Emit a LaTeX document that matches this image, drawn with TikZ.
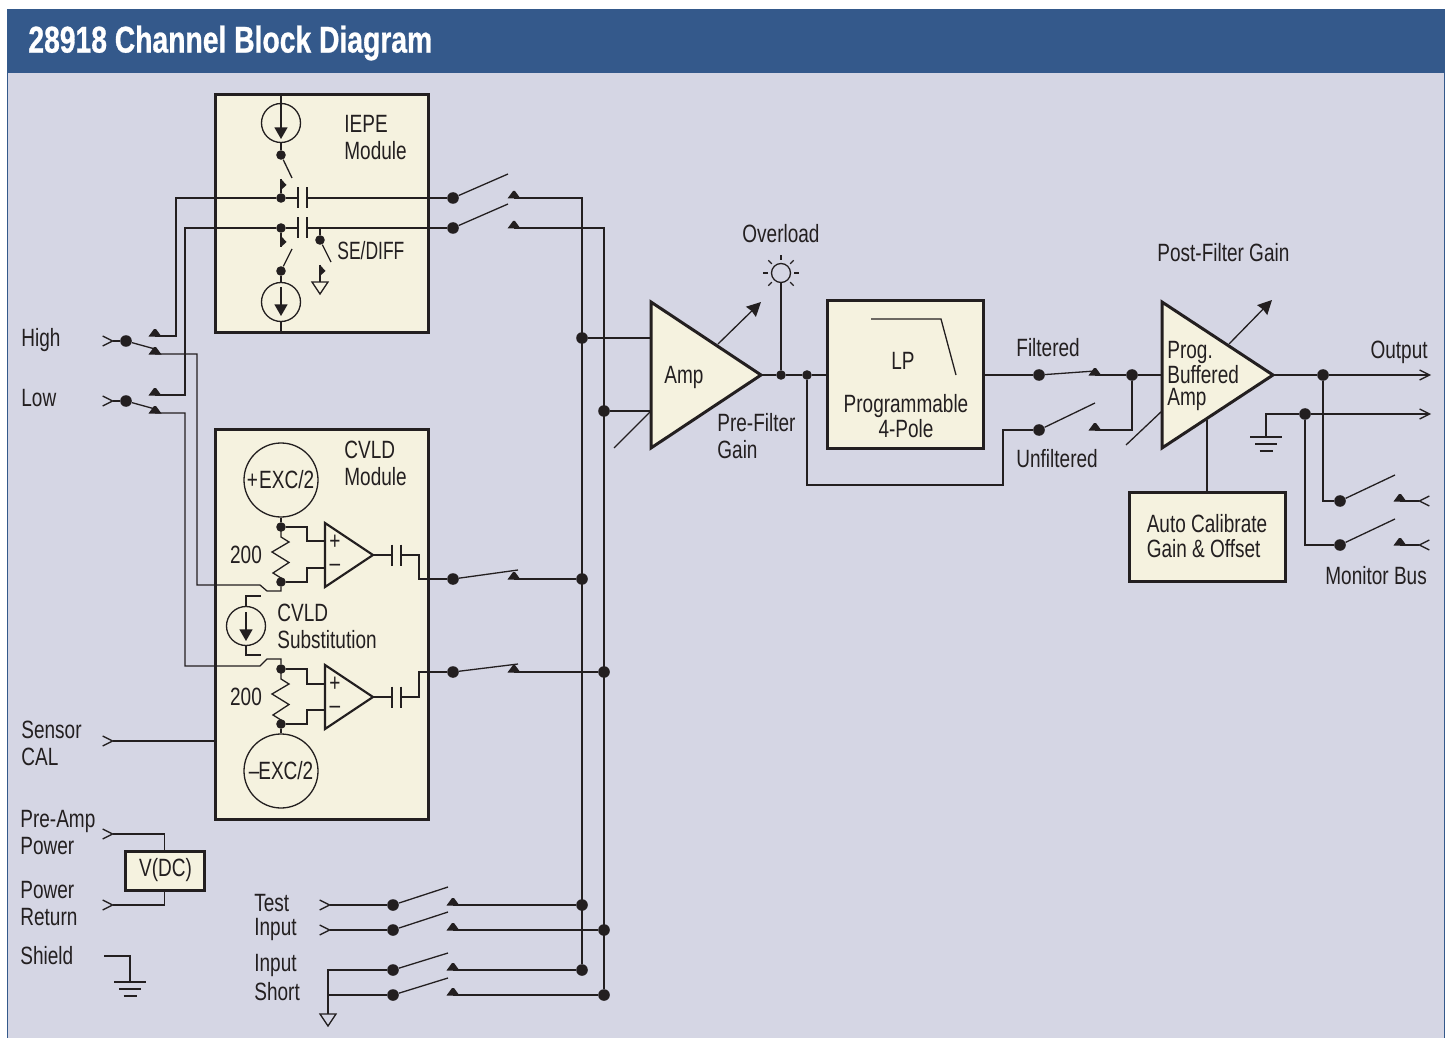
\documentclass[tikz,border=0pt]{standalone}
\usepackage{fontspec}
\setmainfont[FakeStretch=0.76]{Liberation Sans}
\newfontfamily\titlefont[FakeStretch=0.76,FakeBold=0.8]{Liberation Sans Bold}
\usepackage{tikz}
\usetikzlibrary{calc, arrows.meta}
\usepackage{xcolor}
\definecolor{inkdark}{RGB}{35,31,32}
\definecolor{panelgrey}{RGB}{213,214,228}
\definecolor{titleblue}{RGB}{52,89,139}
\definecolor{blockcream}{RGB}{245,242,223}
\tikzset{
	wire/.style={draw=inkdark, line width=0.65pt},
	block/.style={draw=inkdark, fill=blockcream, line width=1.5pt, inner sep=0pt, outer sep=0pt},
	jdot/.style={circle, fill=inkdark, inner sep=0pt, minimum size=4.8pt},
	bigdot/.style={circle, fill=inkdark, inner sep=0pt, minimum size=5.8pt},
	isrc/.style={circle, draw=inkdark, line width=0.65pt, inner sep=0pt, minimum size=19.5pt},
	excsrc/.style={circle, draw=inkdark, line width=0.65pt, inner sep=0pt, minimum size=37pt},
	lbl/.style={font=\fontsize{12.5}{13.5}\selectfont, text=inkdark, inner sep=0pt, anchor=west, align=left},
	srctip/.style={-{Triangle[length=5.8pt,width=6.5pt]}},
	gaintip/.style={-{Stealth[length=7pt,width=7pt,inset=0.5pt]}},
	portin/.style={-{Straight Barb[reversed,length=5pt,width=5pt]}},
	portout/.style={-{Straight Barb[length=5pt,width=5pt]}},
	contact/.pic={\fill[inkdark] (-6.5,0.5) -- (-1,-7) -- (1,-7) -- (6.5,0.5) -- cycle;},
	flag/.pic={\fill[inkdark] (0,0) -- (5.5,6) -- (0,11) -- cycle;},
	sgnd/.pic={\draw[wire, fill=none] (-8,0) -- (8,0) -- (0,12) -- cycle;},
	chassis/.pic={\draw[wire] (-16,0) -- (16,0) (-11,7) -- (11,7) (-6.5,14) -- (6.5,14);},
}
% dot, arm tip and contact of one switch
\newcommand{\switchpole}[4]{%
	\node[bigdot] (#1) at (#2) {};
	\coordinate (#1arm) at (#3);
	\coordinate (#1con) at (#4);
	\draw[wire] (#1) -- (#1arm);
	\pic at (#1con) {contact};
}
\newcommand{\capplates}[2]{%
	\coordinate (#1) at (#2);
	\coordinate (#1l) at ($(#1)+(-4.5,0)$);
	\coordinate (#1r) at ($(#1)+(4.5,0)$);
	\draw[wire] ($(#1l)+(0,-10.5)$) -- ($(#1l)+(0,10.5)$) ($(#1r)+(0,-10.5)$) -- ($(#1r)+(0,10.5)$);
}
\newcommand{\zigres}[2]{%
	\draw[wire] (#1.center) -- ++(0,10) -- ++(8,5) -- ++(-17,10) -- ++(17,10.5) -- ++(-16,10.5) -- ++(8,5) -- (#2.center);
}

\begin{document}
\begin{tikzpicture}[x=0.5pt, y=-0.5pt]
	\useasboundingbox (0,0) rectangle (1448,1038);
	% panel and title
	\fill[white] (0,0) rectangle (1448,1038);
	\filldraw[fill=panelgrey, draw=titleblue, line width=0.4pt] (7.5,72) rectangle (1444.5,1040);
	\fill[titleblue] (7,9) rectangle (1445,72);
	\node[lbl, font=\fontsize{18.6}{20}\selectfont\titlefont, text=white] (title) at (28,43) {28918 Channel Block Diagram};

	% module boxes
	\node[block, minimum width=106.5pt, minimum height=118.5pt] (iepe) at (321.5,213.5) {};
	\node[block, minimum width=106.5pt, minimum height=195pt] (cvld) at (321.5,624) {};
	\node[block, minimum width=78pt, minimum height=73.5pt] (lpf) at (905,374.5) {};
	\node[block, minimum width=78pt, minimum height=44.5pt, font=\fontsize{12.5}{12.5}\selectfont, text=inkdark, align=left] (autocal) at (1207,536.5) {Auto Calibrate\\Gain \& Offset};
	\node[block, minimum width=39.5pt, minimum height=19.5pt, font=\fontsize{12.5}{13.5}\selectfont, text=inkdark] (vdc) at (164.5,870.5) {\hspace{1pt}V(DC)};

	% IEPE module
	\node[isrc] (srctop) at (281,123) {};
	\node[isrc] (srcbot) at (281,302) {};
	\node[jdot] (topsw) at (281,155) {};
	\node[jdot] (botsw) at (281,271) {};
	\node[jdot] (nodehi) at (281,198) {};
	\node[jdot] (nodelo) at (281,228) {};
	\node[jdot] (sesw) at (320,240) {};
	\coordinate (srctopin) at (281,95);
	\coordinate (srctoptip) at (281,139);
	\coordinate (srcbotin) at (281,287);
	\coordinate (srcbottip) at (281,316);
	\coordinate (srcbotout) at (281,332);
	\coordinate (toparm) at (292,178);
	\coordinate (botarm) at (292,249);
	\coordinate (searm) at (331,262);
	\coordinate (seflag) at (320,265);
	\coordinate (segnd) at (320,282);
	\coordinate (setap) at (320,228);
	\coordinate (hiflag) at (281,179);
	\coordinate (loflag) at (281,236);
	\coordinate (loflagend) at (281,247);
	\draw[wire, srctip] (srctopin) -- (srctoptip);
	\draw[wire] (srctop) -- (topsw);
	\draw[wire] (topsw) -- (toparm);
	\draw[wire, srctip] (srcbotin) -- (srcbottip);
	\draw[wire] (botsw) -- (srcbot);
	\draw[wire] (srcbot) -- (srcbotout);
	\draw[wire] (botsw) -- (botarm);
	\draw[wire] (nodehi) -- (hiflag);
	\draw[wire] (nodelo) -- (loflagend);
	\draw[wire] (setap) -- (sesw);
	\draw[wire] (sesw) -- (searm);
	\draw[wire] (seflag) -- (segnd);
	\pic at (hiflag) {flag};
	\pic at (loflag) {flag};
	\pic at (seflag) {flag};
	\pic at (segnd) {sgnd};
	\capplates{caphi}{302.5,198}
	\capplates{caplo}{302.5,228}
	\node[lbl] (iepelbl) at (344,137.5) {IEPE\\Module};
	\node[lbl] (selbl) at (337,251) {\scalebox{0.92}[1]{SE/DIFF}};

	% switches after the modules
	\switchpole{swhi}{453,198}{508,174}{514,198}
	\switchpole{swlo}{453,228}{508,204}{514,228}
	\switchpole{swcva}{453,579}{518,570}{514,579}
	\switchpole{swcvb}{453,672}{518,664}{514,672}
	\draw[wire] (swhi) -- (caphir);
	\draw[wire] (swlo) -- (caplor);

	% input switches
	\node[bigdot] (high) at (126,341) {};
	\node[bigdot] (low) at (126,401) {};
	\coordinate (highport) at (102,341);
	\coordinate (lowport) at (102,401);
	\coordinate (higharm) at (155,349);
	\coordinate (lowarm) at (155,409);
	\coordinate (highon) at (155,354);
	\coordinate (highoff) at (155,336);
	\coordinate (lowon) at (155,413);
	\coordinate (lowoff) at (155,395);
	\pic at (highon) {contact};
	\pic at (highoff) {contact};
	\pic at (lowon) {contact};
	\pic at (lowoff) {contact};
	\draw[wire, portin] (high) -- (highport);
	\draw[wire, portin] (low) -- (lowport);
	\draw[wire] (high) -- (higharm);
	\draw[wire] (low) -- (lowarm);
	\node[lbl] (highlbl) at (21,340) {High};
	\node[lbl] (lowlbl) at (21,398) {Low};
	% wires from the inputs
	\coordinate (hitap) at (176,198);
	\coordinate (lotap) at (185,228);
	\coordinate (hibendA) at (260,585);
	\coordinate (hibendB) at (267,591);
	\coordinate (hibendC) at (281,591);
	\coordinate (lobendA) at (260,666);
	\coordinate (lobendB) at (267,659);
	\coordinate (lobendC) at (281,659);
	\draw[wire] (caphil) -- (nodehi) -- (hitap) |- (highoff);
	\draw[wire] (caplol) -- (nodelo) -- (lotap) |- (lowoff);

	% CVLD module
	\node[excsrc] (excpos) at (281,480) {};
	\node[excsrc] (excneg) at (281,771) {};
	\node[lbl, anchor=center] (excposlbl) at (280.5,480) {+\hspace{0.6pt}EXC/2};
	\node[lbl, anchor=center] (excneglbl) at (281,771) {--\hspace{-0.5pt}EXC/2};
	\node[jdot] (resAt) at (281,527) {};
	\node[jdot] (resAb) at (281,582) {};
	\node[jdot] (resBt) at (281,669) {};
	\node[jdot] (resBb) at (281,724) {};
	\zigres{resAt}{resAb}
	\zigres{resBt}{resBb}
	\draw[wire] (excpos) -- (resAt);
	\draw[wire] (excneg) -- (resBb);
	\coordinate (opAplus) at (325,541);
	\coordinate (opAminus) at (325,568);
	\coordinate (opBplus) at (325,684);
	\coordinate (opBminus) at (325,710);
	\coordinate (jogAt) at (307,527);
	\coordinate (jogAb) at (307,582);
	\coordinate (jogBt) at (307,669);
	\coordinate (jogBb) at (307,724);
	\draw[wire] (resAt) -- (jogAt) |- (opAplus);
	\draw[wire] (resAb) -- (jogAb) |- (opAminus);
	\draw[wire] (resBt) -- (jogBt) |- (opBplus);
	\draw[wire] (resBb) -- (jogBb) |- (opBminus);
	\coordinate (opAtop) at (325,523);
	\coordinate (opAbot) at (325,587);
	\coordinate (opAout) at (373,555);
	\coordinate (opBtop) at (325,665);
	\coordinate (opBbot) at (325,729);
	\coordinate (opBout) at (373,697);
	\draw[wire, line width=1.1pt, fill=blockcream] (opAtop) -- (opAbot) -- (opAout) -- cycle;
	\draw[wire, line width=1.1pt, fill=blockcream] (opBtop) -- (opBbot) -- (opBout) -- cycle;
	\node[lbl, anchor=center] (opAp) at (335,542) {+};
	\node[lbl, anchor=center] (opAm) at (335,568) {--};
	\node[lbl, anchor=center] (opBp) at (335,684) {+};
	\node[lbl, anchor=center] (opBm) at (335,710) {--};
	\capplates{capA}{396.5,555}
	\capplates{capB}{396.5,697}
	\coordinate (capAjog) at (419,555);
	\coordinate (capBjog) at (419,697);
	\draw[wire] (opAout) -- (capAl);
	\draw[wire] (opBout) -- (capBl);
	\draw[wire] (capAr) -- (capAjog) |- (swcva);
	\draw[wire] (capBr) -- (capBjog) |- (swcvb);
	\node[lbl, anchor=center] (resAlbl) at (246,555) {200};
	\node[lbl, anchor=center] (resBlbl) at (246,697) {200};
	\node[lbl] (cvldlbl) at (344,463.5) {CVLD\\Module};
	% CVLD substitution source
	\node[isrc] (srcsub) at (246,626) {};
	\coordinate (srcsubin) at (246,612);
	\coordinate (srcsubtip) at (246,641);
	\coordinate (subtopend) at (261,596);
	\coordinate (subbotend) at (261,655);
	\draw[wire, srctip] (srcsubin) -- (srcsubtip);
	\draw[wire] (srcsub) |- (subtopend);
	\draw[wire] (srcsub) |- (subbotend);
	\node[lbl] (sublbl) at (277,626.5) {CVLD\\Substitution};
	% input wires into the CVLD module
	\draw[wire] (highon) -| (197,585) -- (hibendA) -- (hibendB) -- (hibendC) -- (resAb);
	\draw[wire] (lowon) -| (185,666) -- (lobendA) -- (lobendB) -- (lobendC) -- (resBt);

	% other inputs on the left
	\coordinate (calport) at (102,741);
	\coordinate (pwrport) at (102,834);
	\coordinate (retport) at (102,905);
	\coordinate (shieldin) at (104,956);
	\coordinate (shieldbend) at (130,956);
	\coordinate (shieldgnd) at (130,982);
	\draw[wire, portin] (cvld.west |- calport) -- (calport);
	\draw[wire, portin] (vdc.north) |- (pwrport);
	\draw[wire, portin] (vdc.south) |- (retport);
	\draw[wire] (shieldin) -- (shieldbend) -- (shieldgnd);
	\pic at (shieldgnd) {chassis};
	\node[lbl] (callbl) at (21,743.5) {Sensor\\CAL};
	\node[lbl] (pwrlbl) at (20,832.5) {Pre-Amp\\Power};
	\node[lbl] (retlbl) at (20,903.5) {Power\\Return};
	\node[lbl] (shieldlbl) at (20,956) {Shield};

	% test and short switches
	\switchpole{swtesta}{393,905}{448,887}{453,905}
	\switchpole{swtestb}{393,930}{448,912}{453,930}
	\switchpole{swshorta}{393,970}{448,953}{453,970}
	\switchpole{swshortb}{393,995}{448,978}{453,995}
	\coordinate (testaport) at (319,905);
	\coordinate (testbport) at (319,930);
	\coordinate (shorttap) at (328,970);
	\coordinate (shortmid) at (328,995);
	\coordinate (shortgnd) at (328,1014);
	\draw[wire, portin] (swtesta) -- (testaport);
	\draw[wire, portin] (swtestb) -- (testbport);
	\draw[wire] (swshorta) -- (shorttap) -- (shortgnd);
	\draw[wire] (swshortb) -- (shortmid);
	\pic at (shortgnd) {sgnd};
	\node[lbl, font=\fontsize{12.5}{12}\selectfont] (testlbl) at (254,917) {Test\\Input};
	\node[lbl, font=\fontsize{12.5}{14.5}\selectfont] (shortlbl) at (254,977.5) {Input\\Short};

	% the two buses
	\node[bigdot] (busA) at (582,338) {};
	\node[bigdot] (busB) at (604,411) {};
	\node[bigdot] (busC) at (582,579) {};
	\node[bigdot] (busD) at (604,672) {};
	\node[bigdot] (busE) at (582,905) {};
	\node[bigdot] (busF) at (604,930) {};
	\node[bigdot] (busG) at (582,970) {};
	\node[bigdot] (busH) at (604,995) {};
	\draw[wire] (swhicon) -| (busG);
	\draw[wire] (swlocon) -| (busH);
	\draw[wire] (swcvacon) -- (busC);
	\draw[wire] (swcvbcon) -- (busD);
	\draw[wire] (swtestacon) -- (busE);
	\draw[wire] (swtestbcon) -- (busF);
	\draw[wire] (swshortacon) -- (busG);
	\draw[wire] (swshortbcon) -- (busH);

	% pre-filter amp
	\coordinate (ampTop) at (651,302);
	\coordinate (ampBot) at (651,448);
	\coordinate (ampOut) at (761,375);
	\coordinate (ampInA) at (651,338);
	\coordinate (ampInB) at (651,411);
	\coordinate (ampGainFrom) at (718,344);
	\coordinate (ampGainTip) at (761,302);
	\coordinate (ampSlashA) at (614,448);
	\coordinate (ampSlashB) at (650,412);
	\draw[wire] (busA) -- (ampInA);
	\draw[wire] (busB) -- (ampInB);
	\draw[wire] (ampSlashA) -- (ampSlashB);
	\draw[wire, gaintip] (ampGainFrom) -- (ampGainTip);
	\draw[block] (ampTop) -- (ampBot) -- (ampOut) -- cycle;
	\node[lbl] (amplbl) at (664,377) {Amp};
	\node[lbl] (prelbl) at (717,436.5) {Pre-Filter\\Gain};

	% overload lamp
	\node[jdot] (lampjoin) at (781,375) {};
	\node[jdot] (unfjoin) at (807,375) {};
	\node[circle, draw=inkdark, line width=0.65pt, inner sep=0pt, minimum size=9.5pt] (lamp) at (781,273) {};
	\foreach \a in {0,45,...,315}
		\draw[wire] ($(lamp.center)+(\a:13)$) -- ($(lamp.center)+(\a:18)$);
	\draw[wire] (lamp) -- (lampjoin);
	\draw[wire] (ampOut) -- (lampjoin);
	\draw[wire] (lampjoin) -- (unfjoin);
	\draw[wire] (unfjoin) -- (lpf.west |- unfjoin);
	\node[lbl, anchor=center] (overlbl) at (781,234) {Overload};

	% filter
	\coordinate (lpfA) at (871,319);
	\coordinate (lpfB) at (941,319);
	\coordinate (lpfC) at (956,375);
	\draw[wire] (lpfA) -- (lpfB) -- (lpfC);
	\node[lbl, anchor=center] (lplbl) at (903,361) {LP};
	\node[lbl, anchor=center, align=center, font=\fontsize{12.5}{12.5}\selectfont] (progpole) at (906,416) {Programmable\\4-Pole};

	% filtered and unfiltered switches
	\switchpole{swfilt}{1039,375}{1095,371}{1095,375}
	\switchpole{swunf}{1039,430}{1095,403}{1095,430}
	\node[bigdot] (filtjoin) at (1132,375) {};
	\coordinate (unfdown) at (807,485);
	\coordinate (unfup) at (1003,485);
	\draw[wire] (unfjoin) -- (unfdown) -- (unfup) |- (swunf);
	\draw[wire] (lpf.east |- swfilt) -- (swfilt);
	\draw[wire] (swfiltcon) -- (filtjoin);
	\draw[wire] (swunfcon) -| (filtjoin);
	\node[lbl] (filtlbl) at (1016,348) {Filtered};
	\node[lbl] (unflbl) at (1016,459) {Unfiltered};

	% post-filter amp
	\coordinate (progTop) at (1162,302);
	\coordinate (progBot) at (1162,448);
	\coordinate (progOut) at (1273,375);
	\coordinate (progIn) at (1162,375);
	\coordinate (progTap) at (1207,420);
	\coordinate (progGainFrom) at (1229,344);
	\coordinate (progGainTip) at (1272,300);
	\coordinate (progSlashA) at (1126,445);
	\coordinate (progSlashB) at (1162,411);
	\draw[wire] (filtjoin) -- (progIn);
	\draw[wire] (progSlashA) -- (progSlashB);
	\draw[wire, gaintip] (progGainFrom) -- (progGainTip);
	\draw[wire] (progTap) -- (autocal.north);
	\draw[block] (progTop) -- (progBot) -- (progOut) -- cycle;
	\node[lbl, font=\fontsize{12.5}{11}\selectfont] (proglbl) at (1167,376) {Prog.\\Buffered\\Amp};
	\node[lbl] (postlbl) at (1157,253) {Post-Filter Gain};

	% outputs and monitor bus
	\node[bigdot] (outjoin) at (1323,375) {};
	\node[bigdot] (gndjoin) at (1305,414) {};
	\coordinate (outport) at (1431,375);
	\coordinate (gndport) at (1431,414);
	\coordinate (gndbend) at (1266,414);
	\coordinate (gndbars) at (1266,437);
	\draw[wire] (progOut) -- (outjoin);
	\draw[wire, portout] (outjoin) -- (outport);
	\draw[wire, portout] (gndjoin) -- (gndport);
	\draw[wire] (gndjoin) -- (gndbend) -- (gndbars);
	\pic at (gndbars) {chassis};
	\switchpole{swmona}{1340,501}{1395,475}{1400,501}
	\switchpole{swmonb}{1340,545}{1395,519}{1400,545}
	\coordinate (monaport) at (1430,501);
	\coordinate (monbport) at (1430,545);
	\draw[wire] (outjoin) |- (swmona);
	\draw[wire] (gndjoin) |- (swmonb);
	\draw[wire, portin] (swmonacon) -- (monaport);
	\draw[wire, portin] (swmonbcon) -- (monbport);
	\node[lbl, anchor=east] (outlbl) at (1428,352) {Output};
	\node[lbl] (monlbl) at (1325,576) {Monitor Bus};
\end{tikzpicture}
\end{document}
